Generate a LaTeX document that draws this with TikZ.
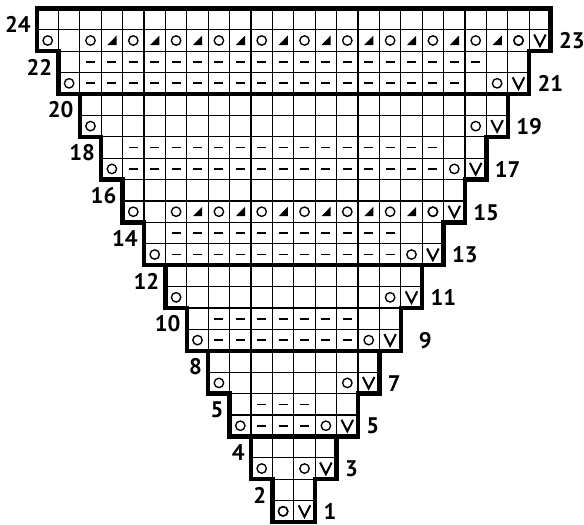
\documentclass[tikz,border=0pt]{standalone}
\usepackage{fontspec}
\setmainfont{PT Sans}
\usetikzlibrary{calc}

\tikzset{
  gridline/.style={line width=0.75pt},
  outline/.style={line width=3pt, line join=miter},
  rownum/.style={font=\bfseries\fontsize{15}{15}\selectfont, inner sep=0pt},
  yarnover/.pic={\draw[line width=0.9pt] (0,0) circle (0.22);},
  slipst/.pic={\draw[line width=1.35pt, line join=miter] (-0.27,0.28) -- (0,-0.26) -- (0.27,0.28);},
  purlst/.pic={\draw[line width=1.1pt] (-0.21,0) -- (0.21,0);},
  decst/.pic={\fill (-0.21,-0.21) -- (0.22,-0.21) -- (0.22,0.23) -- cycle;},
}

\begin{document}
\begin{tikzpicture}[x=0.5cm,y=0.5cm]
\useasboundingbox (-1.729,-0.093) rectangle (25.56,24.393);

% Grid, row by row
\foreach \r in {1,...,24}
{
\pgfmathtruncatemacro\k{(\r+1)/2}
\draw[gridline,step=1] (12-\k,\r-1) grid (12+\k,\r);
}

% Outline
\draw[outline] (11,0) -- (13,0)
  \foreach \k in {1,...,11} { -- (12+\k,2*\k) -- (13+\k,2*\k) }
  -- (24,24) -- (0,24)
  \foreach \k in {11,...,1} { -- (11-\k,2*\k) -- (12-\k,2*\k) }
  -- cycle;

% Thick band lines
\foreach \y/\k in {4/3,8/5,12/7,20/11}
\draw[outline] (12-\k,\y) -- (12+\k,\y);

% Edge stitches on odd rows
\foreach \r in {1,3,...,23}
{
\pgfmathtruncatemacro\k{(\r+1)/2}
\pic at (12.5-\k,\r-0.5) {yarnover};
\pic at (10.5+\k,\r-0.5) {yarnover};
\pic at (11.5+\k,\r-0.5) {slipst};
}

% Purl rows
\foreach \r/\a/\b in {5/11/13,6/11/13,9/9/15,10/9/15,13/7/17,14/7/17,17/5/19,18/5/19,21/3/20,22/3/21}
{
\foreach \c in {\a,...,\b}
\pic at (\c-0.5,\r-0.5) {purlst};
}

% Lace rows
\foreach \r/\a/\b in {15/7/19,23/3/23}
{
\foreach \c in {\a,...,\b}
{
\ifodd\c
\pic at (\c-0.5,\r-0.5) {yarnover};
\else
\pic at (\c-0.5,\r-0.5) {decst};
\fi
}
}

% Row numbers, left
\foreach \r/\t in {2/2,4/4,6/5,8/8,10/10,12/12,14/14,16/16,18/18,20/20,22/22,24/24}
{
\pgfmathtruncatemacro\k{\r/2}
\node[rownum, anchor=east] (L\r) at (11.72-\k,\r-0.75) {\t};
}

% Row numbers, right
\foreach \r/\dx in {1/0,3/0,5/0,7/0,9/0.45,11/0,13/0,15/0,17/0,19/0,21/0,23/0}
{
\pgfmathtruncatemacro\k{(\r+1)/2}
\node[rownum, anchor=west] (R\r) at (12.38+\k+\dx,\r-0.52) {\r};
}

\end{tikzpicture}
\end{document}
